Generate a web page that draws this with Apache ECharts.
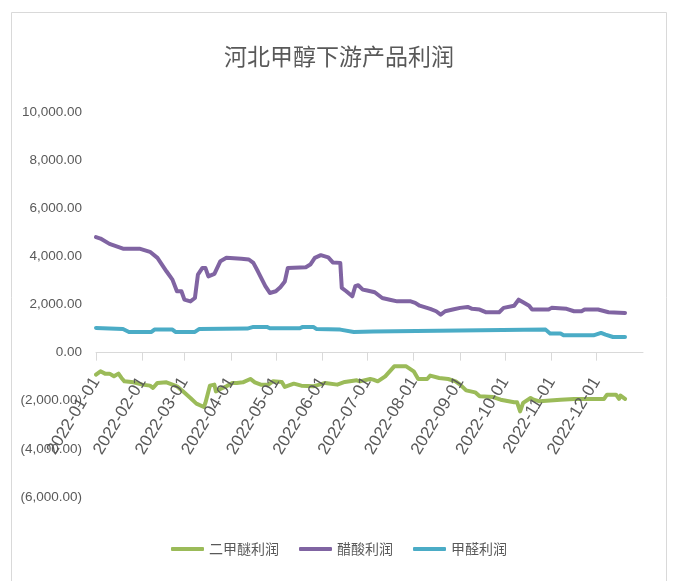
<!DOCTYPE html>
<html>
<head>
<meta charset="utf-8">
<script src="https://cdn.jsdelivr.net/npm/echarts@6/dist/echarts.min.js"></script>
<style>
html,body{margin:0;padding:0;background:#fff;}
#chart{width:678px;height:581px;}
</style>
</head>
<body>
<div id="chart"></div>
<script>
var titleText = '河北甲醇下游产品利润';
var seriesNames = ['二甲醚利润', '醋酸利润', '甲醛利润'];
var yTicks = [-6000, -4000, -2000, 0, 2000, 4000, 6000, 8000, 10000];

var dmeDates = ['2022-01-01','2022-01-04','2022-01-07','2022-01-10','2022-01-13','2022-01-16','2022-01-18','2022-01-20','2022-01-26','2022-02-01','2022-02-06','2022-02-08','2022-02-11','2022-02-17','2022-02-21','2022-02-24','2022-02-28','2022-03-05','2022-03-09','2022-03-14','2022-03-15','2022-03-18','2022-03-21','2022-03-22','2022-03-25','2022-03-29','2022-04-02','2022-04-05','2022-04-09','2022-04-14','2022-04-17','2022-04-21','2022-04-26','2022-04-29','2022-05-05','2022-05-07','2022-05-13','2022-05-18','2022-05-26','2022-06-03','2022-06-11','2022-06-16','2022-06-24','2022-06-26','2022-07-03','2022-07-05','2022-07-08','2022-07-13','2022-07-19','2022-07-27','2022-08-01','2022-08-04','2022-08-10','2022-08-12','2022-08-18','2022-08-24','2022-08-29','2022-09-01','2022-09-05','2022-09-11','2022-09-14','2022-09-23','2022-09-28','2022-10-07','2022-10-09','2022-10-11','2022-10-13','2022-10-18','2022-10-20','2022-10-24','2022-11-07','2022-11-16','2022-12-06','2022-12-08','2022-12-14','2022-12-16','2022-12-17','2022-12-20'];
var dmeValues = [-915,-777,-873,-873,-985,-873,-1053,-1193,-1235,-1330,-1372,-1470,-1260,-1235,-1330,-1400,-1610,-1885,-2120,-2260,-2090,-1372,-1330,-1610,-1510,-1400,-1260,-1260,-1235,-1095,-1235,-1330,-1330,-1193,-1220,-1426,-1290,-1372,-1400,-1260,-1330,-1220,-1150,-1193,-1095,-1123,-1193,-985,-569,-569,-777,-1095,-1095,-956,-1053,-1095,-1193,-1330,-1567,-1650,-1817,-1845,-1955,-2065,-2065,-2440,-2090,-1885,-1955,-2025,-1955,-1925,-1925,-1746,-1746,-1925,-1788,-1925];

var aceticDates = ['2022-01-01','2022-01-04','2022-01-10','2022-01-19','2022-01-30','2022-02-06','2022-02-11','2022-02-17','2022-02-21','2022-02-24','2022-02-27','2022-03-01','2022-03-05','2022-03-08','2022-03-10','2022-03-13','2022-03-15','2022-03-17','2022-03-21','2022-03-25','2022-03-29','2022-04-08','2022-04-13','2022-04-16','2022-04-19','2022-04-24','2022-04-27','2022-05-01','2022-05-04','2022-05-07','2022-05-09','2022-05-21','2022-05-24','2022-05-27','2022-05-31','2022-06-05','2022-06-08','2022-06-13','2022-06-14','2022-06-17','2022-06-21','2022-06-23','2022-06-25','2022-06-28','2022-07-01','2022-07-06','2022-07-11','2022-07-16','2022-07-21','2022-07-30','2022-08-02','2022-08-05','2022-08-12','2022-08-16','2022-08-19','2022-08-22','2022-08-27','2022-09-01','2022-09-06','2022-09-09','2022-09-14','2022-09-18','2022-09-27','2022-09-30','2022-10-07','2022-10-10','2022-10-13','2022-10-17','2022-10-19','2022-10-30','2022-11-01','2022-11-11','2022-11-16','2022-11-21','2022-11-23','2022-12-02','2022-12-09','2022-12-20'];
var aceticValues = [4800,4740,4520,4320,4320,4190,3940,3380,3035,2550,2550,2200,2130,2270,3240,3520,3520,3170,3270,3800,3940,3900,3870,3730,3380,2760,2480,2550,2720,2960,3520,3550,3660,3940,4050,3960,3750,3730,2690,2550,2340,2760,2800,2620,2580,2510,2270,2200,2130,2130,2070,1950,1820,1720,1580,1720,1790,1860,1900,1820,1790,1680,1680,1860,1950,2200,2090,1950,1790,1790,1860,1820,1720,1720,1790,1790,1680,1650];

var formalDates = ['2022-01-01','2022-01-19','2022-01-23','2022-02-07','2022-02-09','2022-02-21','2022-02-23','2022-03-08','2022-03-11','2022-04-12','2022-04-16','2022-04-25','2022-04-27','2022-05-17','2022-05-19','2022-05-26','2022-05-28','2022-06-13','2022-06-22','2022-07-05','2022-07-06','2022-10-28','2022-10-31','2022-11-07','2022-11-09','2022-11-29','2022-11-30','2022-12-04','2022-12-07','2022-12-12','2022-12-20'];
var formalValues = [1027,985,860,860,956,956,860,860,985,1000,1070,1070,1010,1010,1070,1070,985,956,860,880,956,956,790,790,720,720,650,820,750,650,650];

var colors = ['#9bbb59', '#8064a2', '#4bacc6'];

function pair(dates, vals) {
  return dates.map(function (d, i) { return [d, vals[i]]; });
}
function fmtY(v) {
  var s = Math.abs(v).toFixed(2).replace(/\B(?=(\d{3})+(?!\d))/g, ',');
  return v < 0 ? '(' + s + ')' : s;
}

var gridTop = 112, gridBottom = 84, H = 581;
var yMin = -6000, yMax = 10000;
var plotH = H - gridTop - gridBottom;
var zeroOffset = -(plotH * (0 - yMin) / (yMax - yMin));

var chart = echarts.init(document.getElementById('chart'));
var textColor = '#595959';
var option = {
  animation: false,
  backgroundColor: '#fff',
  title: {
    text: titleText,
    left: 'center',
    top: 40,
    textStyle: { color: textColor, fontSize: 23, fontWeight: 'normal', fontFamily: 'Noto Sans CJK SC' }
  },
  graphic: [{
    type: 'rect',
    shape: { x: 11.5, y: 12.5, width: 655, height: 620 },
    style: { fill: 'none', stroke: '#d9d9d9', lineWidth: 1 },
    silent: true
  }],
  legend: {
    bottom: 20,
    left: 'center',
    itemWidth: 33,
    itemHeight: 4,
    itemGap: 20,
    icon: 'roundRect',
    textStyle: { color: textColor, fontSize: 14, fontFamily: 'Noto Sans CJK SC' },
    data: seriesNames
  },
  grid: { left: 96, right: 35, top: gridTop, bottom: gridBottom, containLabel: false },
  xAxis: {
    type: 'time',
    z: 5,
    min: '2022-01-01',
    max: '2023-01-01',
    minInterval: 28 * 86400000,
    maxInterval: 31 * 86400000,
    offset: zeroOffset,
    axisLine: { onZero: false, lineStyle: { color: '#d9d9d9', width: 1 } },
    axisTick: { show: true, length: 8, lineStyle: { color: '#d9d9d9' } },
    splitLine: { show: false },
    axisLabel: {
      rotate: 59,
      margin: 26,
      color: textColor,
      fontSize: 17,
      fontFamily: 'Liberation Sans',
      showMaxLabel: false,
      hideOverlap: false,
      formatter: function (val) { return echarts.time.format(val, '{yyyy}-{MM}-{dd}', false); }
    }
  },
  yAxis: {
    type: 'value',
    min: yMin,
    max: yMax,
    interval: 2000,
    axisLine: { show: false },
    axisTick: { show: false },
    splitLine: { show: false },
    axisLabel: {
      color: textColor,
      fontSize: 13.5,
      fontFamily: 'Liberation Sans',
      margin: 14,
      formatter: fmtY
    }
  },
  series: [
    { name: seriesNames[0], type: 'line', data: pair(dmeDates, dmeValues), showSymbol: false, symbol: 'none',
      lineStyle: { color: colors[0], width: 4, cap: 'round', join: 'round' }, itemStyle: { color: colors[0] } },
    { name: seriesNames[1], type: 'line', data: pair(aceticDates, aceticValues), showSymbol: false, symbol: 'none',
      lineStyle: { color: colors[1], width: 4, cap: 'round', join: 'round' }, itemStyle: { color: colors[1] } },
    { name: seriesNames[2], type: 'line', data: pair(formalDates, formalValues), showSymbol: false, symbol: 'none',
      lineStyle: { color: colors[2], width: 4, cap: 'round', join: 'round' }, itemStyle: { color: colors[2] } }
  ]
};
chart.setOption(option);
</script>
</body>
</html>
